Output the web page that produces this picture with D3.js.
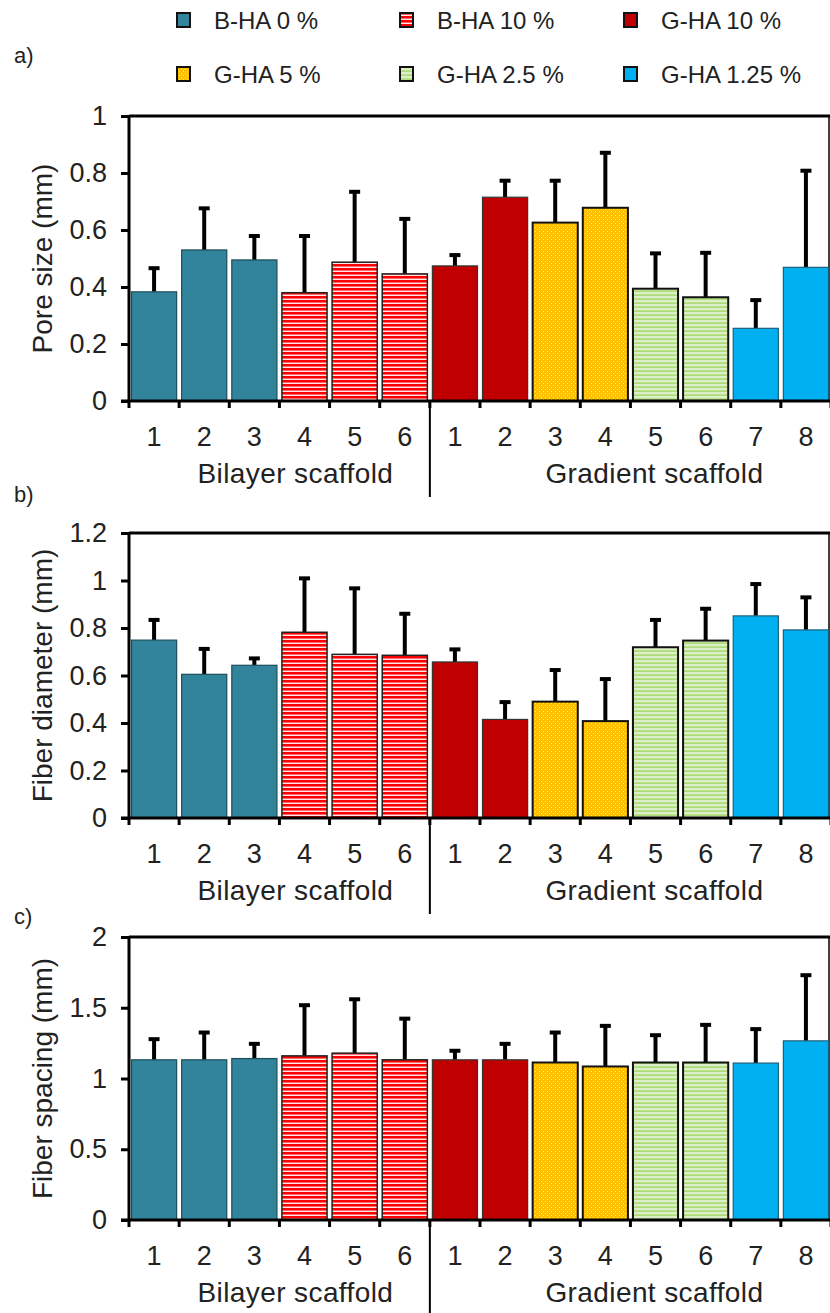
<html>
<head>
<title>Scaffold morphology</title>
<script src="https://d3js.org/d3.v7.min.js" charset="utf-8"></script>
<style type="text/css">
body{ margin:0; background:#fff; }
svg text{ font-family:"Liberation Sans", Arial, sans-serif; fill:#222; }
.axis path, .axis line{ stroke:#000; stroke-width:3; fill:none; }
.axis text{ font-size:27px; }
.err{ stroke:#000; stroke-width:4; fill:none; }
</style>
</head>
<body>
<script>
// categories: 6 bilayer samples then 8 gradient samples
var categories = ['1','2','3','4','5','6','1','2','3','4','5','6','7','8'];
var groupNames = ['Bilayer scaffold','Gradient scaffold'];
var groupOf    = [0,0,0,0,0,0,1,1,1,1,1,1,1,1];
var seriesNames = ['B-HA 0 %','B-HA 10 %','G-HA 10 %','G-HA 5 %','G-HA 2.5 %','G-HA 1.25 %'];
var seriesOf    = [0,0,0,1,1,1,2,2,3,3,4,4,5,5];

var poreSize    = [0.383,0.530,0.495,0.380,0.487,0.446,0.474,0.715,0.626,0.678,0.394,0.364,0.255,0.469];
var poreSizeSd  = [0.083,0.146,0.084,0.199,0.247,0.193,0.038,0.058,0.147,0.193,0.124,0.156,0.099,0.339];
var fiberDiam   = [0.749,0.605,0.643,0.782,0.689,0.685,0.657,0.415,0.490,0.408,0.719,0.747,0.851,0.792];
var fiberDiamSd = [0.085,0.107,0.029,0.227,0.278,0.175,0.053,0.073,0.133,0.177,0.115,0.134,0.134,0.137];
var fiberSpac   = [1.132,1.132,1.141,1.160,1.179,1.132,1.132,1.132,1.113,1.085,1.113,1.113,1.109,1.266];
var fiberSpacSd = [0.146,0.193,0.104,0.358,0.381,0.291,0.064,0.113,0.212,0.287,0.193,0.266,0.240,0.464];

var ticksA = [0,0.2,0.4,0.6,0.8,1];
var ticksB = [0,0.2,0.4,0.6,0.8,1,1.2];
var ticksC = [0,0.5,1,1.5,2];

var W = 830, H = 1313, left = 129, right = 831;

var svg = d3.select('body').append('svg').attr('width', W).attr('height', H);
var defs = svg.append('defs');

// fills: solid colours and pattern fills
var p1 = defs.append('pattern').attr('id','pRed').attr('patternUnits','userSpaceOnUse').attr('width',4).attr('height',4);
p1.append('rect').attr('width',4).attr('height',4).attr('fill','#ff0000');
p1.append('rect').attr('y',2.6).attr('width',4).attr('height',1.3).attr('fill','#fff');

var p2 = defs.append('pattern').attr('id','pYel').attr('patternUnits','userSpaceOnUse').attr('width',4).attr('height',4);
p2.append('rect').attr('width',4).attr('height',4).attr('fill','#ffc000');
p2.append('rect').attr('x',1).attr('y',1).attr('width',1).attr('height',1).attr('fill','#ffe9a8');
p2.append('rect').attr('x',3).attr('y',3).attr('width',1).attr('height',1).attr('fill','#ffe9a8');

var p3 = defs.append('pattern').attr('id','pGrn').attr('patternUnits','userSpaceOnUse').attr('width',4).attr('height',4);
p3.append('rect').attr('width',4).attr('height',4).attr('fill','#dcefc6');
p3.append('rect').attr('y',2.5).attr('width',4).attr('height',1.2).attr('fill','#9bd35a');

var fills   = ['#31849b','url(#pRed)','#c00000','url(#pYel)','url(#pGrn)','#00b0f0'];
var strokes = ['#1d4d5a','#222','#333','#111','#111','#1f5f7a'];
var strokeW = [1.2,1.5,1.2,2,2,1.2];

// legend
var legCols = [177, 400, 624], legRows = [20, 74];
var leg = svg.append('g');
seriesNames.forEach(function(name, i){
	var cx = legCols[i % 3], cy = legRows[Math.floor(i / 3)];
	leg.append('rect').attr('x', cx).attr('y', cy - 7).attr('width', 13).attr('height', 14)
		.attr('fill', fills[i]).attr('stroke', '#111').attr('stroke-width', 2);
	leg.append('text').attr('x', cx + 37).attr('y', cy).attr('dy','0.36em')
		.style('font-size','24px').text(name);
});

var x = d3.scaleBand().domain(d3.range(categories.length)).range([left, right])
	.paddingInner(0.1).paddingOuter(0.05);
var step = x.step();

var panels = [
	{ letter:'a)', ly:55,  top:116, bottom:401,  max:1,   ticks:ticksA, title:'Pore size (mm)',      vals:poreSize,  sd:poreSizeSd },
	{ letter:'b)', ly:494, top:533, bottom:818,  max:1.2, ticks:ticksB, title:'Fiber diameter (mm)', vals:fiberDiam, sd:fiberDiamSd },
	{ letter:'c)', ly:916, top:937, bottom:1220, max:2,   ticks:ticksC, title:'Fiber spacing (mm)',  vals:fiberSpac, sd:fiberSpacSd }
];

panels.forEach(function(p){
	var g = svg.append('g');
	var y = d3.scaleLinear().domain([0, p.max]).range([p.bottom, p.top]);

	g.append('text').attr('x', 14).attr('y', p.ly).attr('dy','0.36em')
		.style('font-size','22px').text(p.letter);

	// frame: top and right border
	g.append('line').attr('x1', left).attr('x2', right).attr('y1', p.top).attr('y2', p.top)
		.attr('stroke','#000').attr('stroke-width',3);
	g.append('line').attr('x1', right - 2).attr('x2', right - 2).attr('y1', p.top).attr('y2', p.bottom)
		.attr('stroke','#000').attr('stroke-width',1.5);

	var data = p.vals.map(function(v, i){ return { i:i, v:v, sd:p.sd[i], s:seriesOf[i] }; });

	// error bars (upper only)
	var eb = g.selectAll('.eb').data(data).enter().append('g');
	eb.append('line').attr('class','err')
		.attr('x1', function(d){ return x(d.i) + x.bandwidth()/2; })
		.attr('x2', function(d){ return x(d.i) + x.bandwidth()/2; })
		.attr('y1', function(d){ return y(d.v); })
		.attr('y2', function(d){ return y(d.v + d.sd); });
	eb.append('line').attr('class','err')
		.attr('x1', function(d){ return x(d.i) + x.bandwidth()/2 - 5.5; })
		.attr('x2', function(d){ return x(d.i) + x.bandwidth()/2 + 5.5; })
		.attr('y1', function(d){ return y(d.v + d.sd); })
		.attr('y2', function(d){ return y(d.v + d.sd); });

	g.selectAll('.bar').data(data).enter().append('rect')
		.attr('x', function(d){ return x(d.i); })
		.attr('width', x.bandwidth())
		.attr('y', function(d){ return y(d.v); })
		.attr('height', function(d){ return y(0) - y(d.v); })
		.attr('fill', function(d){ return fills[d.s]; })
		.attr('stroke', function(d){ return strokes[d.s]; })
		.attr('stroke-width', function(d){ return strokeW[d.s]; });

	// y axis
	g.append('g').attr('class','axis').attr('transform','translate(' + left + ',0)')
		.call(d3.axisLeft(y).tickValues(p.ticks).tickSize(8).tickPadding(14).tickFormat(d3.format('~g')))
		.call(function(a){ a.select('.domain').attr('d', 'M0,' + p.top + 'V' + p.bottom); });

	// x axis with ticks at the band boundaries
	g.append('line').attr('x1', left - 8).attr('x2', right).attr('y1', p.bottom).attr('y2', p.bottom)
		.attr('stroke','#000').attr('stroke-width',3);
	var bounds = d3.range(categories.length + 1).map(function(k){ return left + k * step; });
	g.selectAll('.xt').data(bounds).enter().append('line')
		.attr('x1', function(d){ return d; }).attr('x2', function(d){ return d; })
		.attr('y1', p.bottom).attr('y2', p.bottom + 7)
		.attr('stroke','#000').attr('stroke-width',3);
	g.selectAll('.xl').data(categories).enter().append('text')
		.attr('x', function(d, i){ return x(i) + x.bandwidth()/2; })
		.attr('y', p.bottom + 35).attr('dy','0.36em')
		.attr('text-anchor','middle').style('font-size','27px').text(function(d){ return d; });

	// group divider and group names
	var split = left + groupOf.indexOf(1) * step;
	g.append('line').attr('x1', split).attr('x2', split).attr('y1', p.bottom).attr('y2', p.bottom + 96)
		.attr('stroke','#000').attr('stroke-width',2);
	var gOff = [16, 24];
	groupNames.forEach(function(name, k){
		var idx = d3.range(categories.length).filter(function(i){ return groupOf[i] === k; });
		var cx = (left + idx[0] * step + left + (idx[idx.length - 1] + 1) * step) / 2 + gOff[k];
		g.append('text').attr('x', cx).attr('y', p.bottom + 72).attr('dy','0.36em')
			.attr('text-anchor','middle').style('font-size','28px').style('letter-spacing','0.4px').text(name);
	});

	g.append('text')
		.attr('transform','translate(42,' + ((p.top + p.bottom) / 2) + ') rotate(-90)')
		.attr('text-anchor','middle').attr('dy','0.36em').style('font-size','28px').text(p.title);
});
</script>
</body>
</html>
